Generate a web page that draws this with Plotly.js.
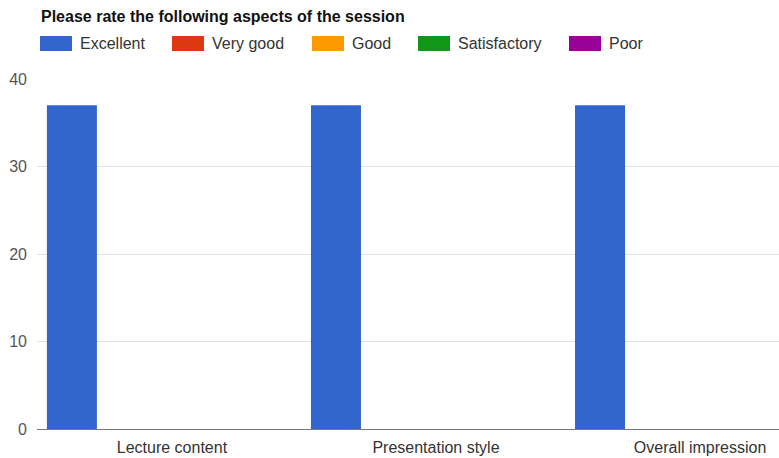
<!DOCTYPE html>
<html><head><meta charset="utf-8">
<script src="https://cdn.plot.ly/plotly-3.0.1.min.js"></script>
<style>html,body{margin:0;padding:0;background:#fff;}#chart{width:779px;height:458px;}</style>
</head><body><div id="chart"></div>
<script>
var categories = ["Lecture content", "Presentation style", "Overall impression"];
var seriesNames = ["Excellent", "Very good", "Good", "Satisfactory", "Poor"];
var excellent = [37, 37, 37];
var veryGood = [0, 0, 0];
var good = [0, 0, 0];
var satisfactory = [0, 0, 0];
var poor = [0, 0, 0];
var colors = ["#3366cc", "#dc3912", "#ff9900", "#109618", "#990099"];
var values = [excellent, veryGood, good, satisfactory, poor];

var traces = values.map(function(v, i){
  return {type:"bar", x:categories, y:v, name:seriesNames[i], marker:{color:colors[i]}, showlegend:false, hoverinfo:"skip"};
});

var FONT = "Arial, Liberation Sans, sans-serif";
// custom legend (Google-chart style wide swatches)
var legendX = [40, 172, 312, 418, 569];
var shapes = [], annotations = [];
seriesNames.forEach(function(n, i){
  shapes.push({type:"rect", xref:"paper", yref:"paper",
    x0:(legendX[i]-37)/742, x1:(legendX[i]+32-37)/742,
    y0:(429-51)/350, y1:(429-36)/350, fillcolor:colors[i], line:{width:0}});
  annotations.push({xref:"paper", yref:"paper", x:(legendX[i]+38-37)/742, y:(429-43.5)/350,
    xanchor:"left", yanchor:"middle", text:n, showarrow:false,
    font:{family:FONT, size:16, color:"#333"}});
});
annotations.push({xref:"paper", yref:"paper", x:(39-37)/742, y:(429-16)/350, xanchor:"left", yanchor:"middle",
  text:"<b>Please rate the following aspects of the session</b>", showarrow:false,
  font:{family:FONT, size:16, color:"#111"}});

var layout = {
  width:779, height:458,
  margin:{l:37, r:0, t:79, b:29},
  paper_bgcolor:"#fff", plot_bgcolor:"#fff",
  barmode:"group", bargap:0.053, bargroupgap:0,
  font:{family:FONT, size:16, color:"#444"},
  xaxis:{type:"category", range:[-0.511, 2.299], showgrid:false, zeroline:false, showline:true,
    linecolor:"#777", linewidth:1, ticks:"", tickfont:{size:16, color:"#333"}, ticklabelstandoff:4},
  yaxis:{range:[0,40], tickvals:[0,10,20,30,40], showgrid:true, gridcolor:"#e3e3e3", zeroline:false,
    showline:false, ticks:"", tickfont:{size:16, color:"#555"}, ticklabelstandoff:9},
  shapes:shapes, annotations:annotations
};
Plotly.newPlot("chart", traces, layout, {displayModeBar:false, staticPlot:true});
</script></body></html>
